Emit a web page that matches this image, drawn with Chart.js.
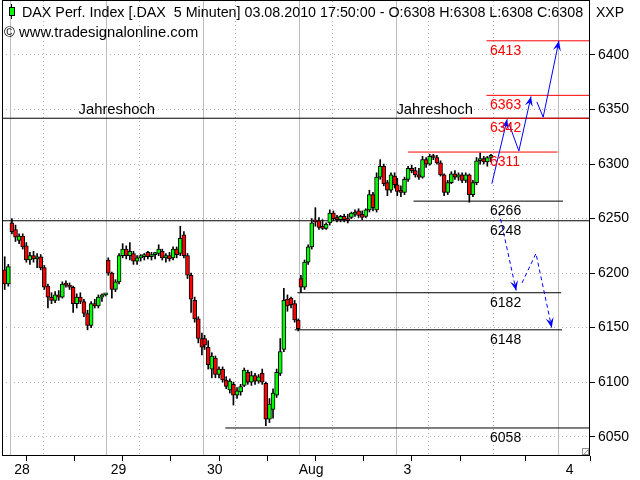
<!DOCTYPE html>
<html>
<head>
<meta charset="utf-8">
<script src="https://cdn.jsdelivr.net/npm/chart.js@4.4.0/dist/chart.umd.min.js"></script>
<style>
  html, body { margin: 0; padding: 0; background: #fff; }
</style>
</head>
<body>
<canvas id="chart" width="640" height="480"></canvas>
<script>
// x axis = 5-minute bar index, 107 bars per trading day (9:00 - 17:55)
const dayStarts = [-8, 0, 107, 214, 321, 428];
const majorTicks = [0, 107, 214, 321, 428, 608];
const majorLabels = ["28", "29", "30", "Aug", "3", "4"];
const minorTicks = [36, 143, 250, 357, 464, 536];
const priceTicks = [6050, 6100, 6150, 6200, 6250, 6300, 6350, 6400];

// candles [open, high, low, close], one per 20 minutes
const jul27 = [
  [6203, 6215, 6185, 6190], [6190, 6208, 6188, 6206]
];
const jul28 = [
  [6246, 6250, 6236, 6238], [6240, 6244, 6229, 6233], [6230, 6236, 6227, 6234],
  [6234, 6236, 6222, 6224], [6225, 6228, 6210, 6212], [6212, 6219, 6208, 6216],
  [6216, 6220, 6210, 6213], [6213, 6218, 6205, 6215], [6215, 6217, 6203, 6205],
  [6205, 6207, 6185, 6187], [6188, 6190, 6168, 6178], [6178, 6182, 6172, 6175],
  [6175, 6183, 6173, 6180], [6180, 6184, 6175, 6178], [6178, 6192, 6177, 6190],
  [6190, 6193, 6187, 6189], [6189, 6191, 6185, 6187], [6187, 6188, 6164, 6172],
  [6172, 6181, 6168, 6178], [6178, 6182, 6172, 6174], [6174, 6176, 6160, 6163],
  [6163, 6166, 6148, 6152], [6152, 6174, 6150, 6172], [6172, 6176, 6168, 6170],
  [6170, 6180, 6168, 6178], [6178, 6181, 6174, 6180], [6180, 6181, 6179, 6180]
];
const jul29 = [
  [6212, 6214, 6198, 6200], [6200, 6201, 6177, 6185], [6185, 6194, 6183, 6192],
  [6192, 6218, 6190, 6216], [6216, 6227, 6214, 6222], [6222, 6225, 6213, 6216],
  [6216, 6228, 6212, 6220], [6218, 6220, 6208, 6211], [6211, 6216, 6208, 6214],
  [6214, 6217, 6211, 6216], [6215, 6218, 6212, 6217], [6219, 6220, 6213, 6215],
  [6215, 6219, 6212, 6217], [6217, 6219, 6213, 6218], [6218, 6226, 6216, 6222],
  [6220, 6222, 6212, 6214], [6214, 6218, 6210, 6216], [6216, 6219, 6211, 6213],
  [6214, 6224, 6212, 6222], [6222, 6224, 6214, 6217], [6218, 6243, 6216, 6232],
  [6235, 6238, 6214, 6216], [6216, 6218, 6195, 6198], [6198, 6200, 6164, 6176],
  [6175, 6178, 6155, 6158], [6158, 6160, 6136, 6140], [6140, 6145, 6125, 6132]
];
const jul30 = [
  [6140, 6143, 6130, 6134], [6132, 6138, 6112, 6116], [6112, 6127, 6104, 6124],
  [6122, 6124, 6104, 6107], [6107, 6114, 6104, 6112], [6112, 6114, 6100, 6102],
  [6102, 6105, 6094, 6096], [6093, 6103, 6090, 6101], [6098, 6100, 6079, 6088],
  [6088, 6095, 6085, 6092], [6091, 6098, 6088, 6096], [6097, 6113, 6096, 6111],
  [6109, 6111, 6098, 6100], [6100, 6110, 6097, 6106], [6106, 6108, 6098, 6101],
  [6101, 6107, 6099, 6105], [6108, 6112, 6098, 6100], [6099, 6100, 6060, 6066],
  [6066, 6085, 6063, 6080], [6075, 6094, 6067, 6090], [6088, 6112, 6086, 6109],
  [6108, 6140, 6106, 6128], [6130, 6186, 6128, 6175], [6176, 6180, 6165, 6170],
  [6177, 6178, 6168, 6171], [6172, 6175, 6155, 6157], [6157, 6158, 6147, 6149]
];
const aug02 = [
  [6195, 6198, 6182, 6187], [6187, 6212, 6185, 6210], [6210, 6226, 6208, 6224],
  [6224, 6250, 6222, 6246], [6248, 6260, 6243, 6247], [6248, 6251, 6240, 6242],
  [6243, 6249, 6240, 6241], [6241, 6246, 6240, 6245], [6246, 6258, 6244, 6255],
  [6255, 6257, 6248, 6250], [6250, 6253, 6247, 6249], [6249, 6253, 6247, 6252],
  [6252, 6254, 6247, 6249], [6250, 6254, 6246, 6248], [6251, 6256, 6250, 6255],
  [6254, 6258, 6252, 6256], [6257, 6259, 6251, 6253], [6254, 6257, 6249, 6251],
  [6252, 6259, 6251, 6258], [6258, 6276, 6256, 6272], [6272, 6274, 6257, 6260],
  [6258, 6292, 6256, 6288], [6288, 6304, 6286, 6298], [6298, 6300, 6280, 6282],
  [6283, 6285, 6271, 6276], [6276, 6292, 6274, 6290], [6289, 6292, 6278, 6281]
];
const aug03 = [
  [6281, 6287, 6271, 6275], [6275, 6280, 6270, 6274], [6274, 6288, 6272, 6286],
  [6286, 6298, 6284, 6296], [6296, 6299, 6292, 6294], [6294, 6297, 6288, 6290],
  [6290, 6296, 6286, 6288], [6288, 6307, 6287, 6304], [6304, 6306, 6297, 6300],
  [6300, 6309, 6299, 6307], [6307, 6309, 6304, 6306], [6306, 6308, 6300, 6301],
  [6301, 6303, 6289, 6290], [6290, 6291, 6271, 6274], [6274, 6285, 6272, 6283],
  [6283, 6293, 6282, 6291], [6291, 6294, 6286, 6288], [6288, 6292, 6285, 6290],
  [6290, 6292, 6283, 6285], [6285, 6292, 6283, 6290], [6290, 6291, 6265, 6272],
  [6272, 6285, 6270, 6283], [6283, 6306, 6281, 6303], [6303, 6310, 6300, 6305],
  [6305, 6307, 6300, 6302], [6302, 6307, 6298, 6306], [6306, 6309, 6302, 6308]
];
const days = [jul27, jul28, jul29, jul30, aug02, aug03];

// horizontal levels
const levelValues = [6413, 6363, 6342, 6311, 6266, 6248, 6182, 6148, 6058];
const levelFrom   = [529, 529, 500, 442, 448, -9, 319, 316, 239];
const levelTo     = [644, 644, 644, 608, 614, 644, 612, 613, 644];
const levelRed    = [true, true, true, true, false, false, false, false, false];
const yearHigh = 6342;
const yearHighLabelX = [76, 429];

// forecast paths [bar index, price]
const upPaths = [
  [[535, 6282], [552, 6341]],
  [[554, 6337], [565, 6312], [578.5, 6362]],
  [[585, 6357], [592, 6343], [609.5, 6413]]
];
const downPaths = [
  [[543, 6256], [562, 6184]],
  [[568.5, 6191], [584, 6218], [601.5, 6150]]
];

const FONT = "'Liberation Sans', Arial, sans-serif";
const GREEN = "#00ff00", RED = "#ff0000", BLUE = "#0000ff";

const wicks = [], bodies = [], bodyColors = [];
days.forEach((rows, d) => {
  rows.forEach((r, k) => {
    const x = dayStarts[d] + 2 + 4 * k;
    wicks.push({ x: x, y: [r[2], r[1]] });
    bodies.push({ x: x, y: [r[0], r[3]] });
    bodyColors.push(r[3] >= r[0] ? GREEN : RED);
  });
});

const datasets = [];

datasets.push({
  type: "line", data: [{ x: -9, y: yearHigh }, { x: 644, y: yearHigh }],
  borderColor: "#000", borderWidth: 1, pointRadius: 0, order: 6
});
levelValues.forEach((v, i) => {
  datasets.push({
    type: "line", data: [{ x: levelFrom[i], y: v }, { x: levelTo[i], y: v }],
    borderColor: levelRed[i] ? RED : "#000", borderWidth: 1, pointRadius: 0, order: 5
  });
});

datasets.push({
  type: "bar", data: wicks, backgroundColor: "#000", barThickness: 1,
  grouped: false, order: 3
});
datasets.push({
  type: "bar", data: bodies, backgroundColor: bodyColors, borderColor: "#000",
  borderWidth: 1, borderSkipped: false, barThickness: 4, minBarLength: 2,
  grouped: false, order: 2
});

upPaths.forEach(p => {
  datasets.push({
    type: "line", data: p.map(q => ({ x: q[0], y: q[1] })), arrow: true,
    borderColor: BLUE, borderWidth: 1, pointRadius: 0, order: 0
  });
});
downPaths.forEach(p => {
  datasets.push({
    type: "line", data: p.map(q => ({ x: q[0], y: q[1] })), arrow: true,
    borderColor: BLUE, borderWidth: 1, borderDash: [4, 3], pointRadius: 0, order: 0
  });
});

function arrowHead(ctx, x0, y0, x1, y1) {
  const a = Math.atan2(y1 - y0, x1 - x0);
  ctx.save();
  ctx.translate(x1, y1);
  ctx.rotate(a);
  ctx.beginPath();
  ctx.moveTo(0, 0);
  ctx.lineTo(-10, -4);
  ctx.lineTo(-6, 0);
  ctx.lineTo(-10, 4);
  ctx.closePath();
  ctx.fillStyle = BLUE;
  ctx.fill();
  ctx.restore();
}

const gridPlugin = {
  id: "dayGrid",
  beforeDatasetsDraw(chart) {
    const { ctx, chartArea: a, scales: { x } } = chart;
    ctx.save();
    ctx.lineWidth = 1;
    ctx.strokeStyle = "#bcbcbc";
    majorTicks.forEach(v => {
      const px = Math.round(x.getPixelForValue(v)) + 0.5;
      ctx.beginPath(); ctx.moveTo(px, a.top); ctx.lineTo(px, a.bottom); ctx.stroke();
    });
    ctx.strokeStyle = "#b0b0b0";
    ctx.setLineDash([1, 3]);
    minorTicks.forEach(v => {
      const px = Math.round(x.getPixelForValue(v)) + 0.5;
      ctx.beginPath(); ctx.moveTo(px, a.top); ctx.lineTo(px, a.bottom); ctx.stroke();
    });
    ctx.restore();
  }
};

const textPlugin = {
  id: "texts",
  afterDraw(chart) {
    const { ctx, chartArea: a, scales: { x, y } } = chart;
    ctx.save();

    // arrow heads at the end of each forecast path
    chart.data.datasets.forEach((ds, i) => {
      if (!ds.arrow) return;
      const pts = chart.getDatasetMeta(i).data;
      const p0 = pts[pts.length - 2], p1 = pts[pts.length - 1];
      arrowHead(ctx, p0.x, p0.y, p1.x, p1.y);
    });

    ctx.font = "14px " + FONT;
    ctx.textBaseline = "top";
    ctx.textAlign = "left";
    levelValues.forEach((v, i) => {
      ctx.fillStyle = levelRed[i] ? RED : "#000";
      ctx.fillText(String(v), x.getPixelForValue(533), y.getPixelForValue(v) + 3);
    });

    ctx.fillStyle = "#000";
    ctx.textBaseline = "alphabetic";
    ctx.font = "14.8px " + FONT;
    yearHighLabelX.forEach(v => {
      ctx.fillText("Jahreshoch", x.getPixelForValue(v), y.getPixelForValue(yearHigh) - 4);
    });
    ctx.fillText("\u00a9 www.tradesignalonline.com", 4, 37);

    ctx.font = "14.3px " + FONT;
    ctx.fillText("DAX Perf. Index [.DAX  5 Minuten] 03.08.2010 17:50:00 - O:6308 H:6308 L:6308 C:6308", 22, 17);
    ctx.font = "14px " + FONT;
    ctx.fillText("XXP", 596, 17);

    // legend candle icon
    ctx.strokeStyle = "#000";
    ctx.lineWidth = 1;
    ctx.beginPath(); ctx.moveTo(11.5, 4); ctx.lineTo(11.5, 19); ctx.stroke();
    ctx.fillStyle = GREEN;
    ctx.fillRect(9, 7, 6, 9);
    ctx.strokeRect(9.5, 7.5, 5, 8);

    // frame
    ctx.strokeStyle = "#000";
    ctx.strokeRect(a.left + 0.5, a.top - 0.5, a.right - a.left - 1, a.bottom - a.top);

    // resize grip
    ctx.strokeStyle = "#909090";
    ctx.strokeRect(a.right - 7.5, a.bottom - 7.5, 6, 6);
    ctx.beginPath(); ctx.moveTo(a.right - 6, a.bottom - 2); ctx.lineTo(a.right - 2, a.bottom - 6); ctx.stroke();

    ctx.restore();
  }
};

new Chart(document.getElementById("chart"), {
  type: "bar",
  data: { datasets: datasets },
  options: {
    responsive: false,
    animation: false,
    devicePixelRatio: 1,
    layout: { padding: { left: 2, top: 1, right: 0, bottom: 0 } },
    plugins: { legend: { display: false }, tooltip: { enabled: false } },
    scales: {
      x: {
        type: "linear", min: -9, max: 644, offset: false,
        afterBuildTicks: s => {
          s.ticks = majorTicks.concat(minorTicks).sort((p, q) => p - q).map(v => ({ value: v }));
        },
        afterFit: s => { s.height = 24; s.paddingLeft = 0; s.paddingRight = 0; },
        ticks: {
          autoSkip: false, maxRotation: 0, labelOffset: 12, padding: 1,
          color: "#000", font: { family: FONT, size: 14 },
          callback: v => {
            const i = majorTicks.indexOf(v);
            return i >= 0 ? majorLabels[i] : "";
          }
        },
        grid: { drawOnChartArea: false, drawTicks: true, tickLength: 5, tickColor: "#000" },
        border: { display: false }
      },
      y: {
        type: "linear", position: "right", min: 6032.3, max: 6449.5,
        afterBuildTicks: s => { s.ticks = priceTicks.map(v => ({ value: v })); },
        afterFit: s => { s.width = 50; s.paddingTop = 0; s.paddingBottom = 0; },
        ticks: { padding: 3, color: "#000", font: { family: FONT, size: 14 }, callback: v => String(v) },
        grid: { color: "#b0b0b0", tickColor: "#000", tickLength: 5, tickBorderDash: [] },
        border: { display: false, dash: [1, 3] }
      }
    }
  },
  plugins: [gridPlugin, textPlugin]
});
</script>
</body>
</html>
